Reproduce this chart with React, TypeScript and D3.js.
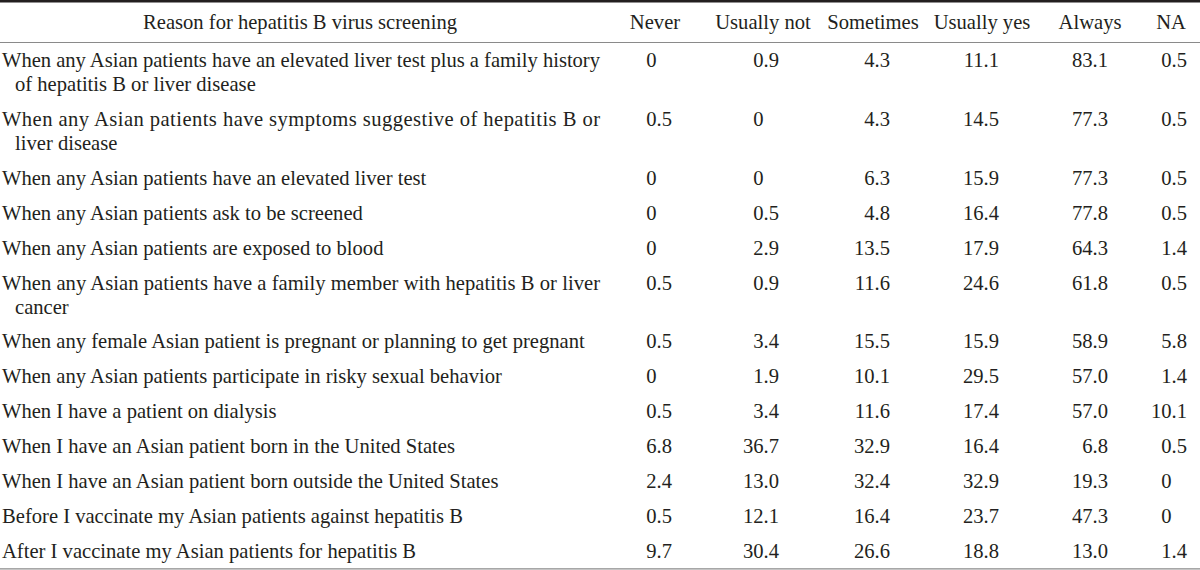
import React from "react";
import * as d3 from "d3";

const headerReason = "Reason for hepatitis B virus screening";
const columns = ["Never", "Usually not", "Sometimes", "Usually yes", "Always", "NA"];

const reasons: string[][] = [
  ["When any Asian patients have an elevated liver test plus a family history", "of hepatitis B or liver disease"],
  ["When any Asian patients have symptoms suggestive of hepatitis B or", "liver disease"],
  ["When any Asian patients have an elevated liver test"],
  ["When any Asian patients ask to be screened"],
  ["When any Asian patients are exposed to blood"],
  ["When any Asian patients have a family member with hepatitis B or liver", "cancer"],
  ["When any female Asian patient is pregnant or planning to get pregnant"],
  ["When any Asian patients participate in risky sexual behavior"],
  ["When I have a patient on dialysis"],
  ["When I have an Asian patient born in the United States"],
  ["When I have an Asian patient born outside the United States"],
  ["Before I vaccinate my Asian patients against hepatitis B"],
  ["After I vaccinate my Asian patients for hepatitis B"],
];

const never = [0, 0.5, 0, 0, 0, 0.5, 0.5, 0, 0.5, 6.8, 2.4, 0.5, 9.7];
const usuallyNot = [0.9, 0, 0, 0.5, 2.9, 0.9, 3.4, 1.9, 3.4, 36.7, 13.0, 12.1, 30.4];
const sometimes = [4.3, 4.3, 6.3, 4.8, 13.5, 11.6, 15.5, 10.1, 11.6, 32.9, 32.4, 16.4, 26.6];
const usuallyYes = [11.1, 14.5, 15.9, 16.4, 17.9, 24.6, 15.9, 29.5, 17.4, 16.4, 32.9, 23.7, 18.8];
const always = [83.1, 77.3, 77.3, 77.8, 64.3, 61.8, 58.9, 57.0, 57.0, 6.8, 19.3, 47.3, 13.0];
const na = [0.5, 0.5, 0.5, 0.5, 1.4, 0.5, 5.8, 1.4, 10.1, 0.5, 0, 0, 1.4];

const seriesValues = [never, usuallyNot, sometimes, usuallyYes, always, na];

const W = 1200;
const H = 570;
const FONT = "'Liberation Serif', 'Times New Roman', serif";
const FS = 20.6;
const INK = "#231f20";

export default function App() {
  // column header centres and decimal-aligned right edges
  const xHeader = d3.scaleOrdinal<string, number>().domain(columns).range([655, 763, 873, 982, 1090, 1171]);
  const xDecimal = d3.scaleOrdinal<string, number>().domain(columns).range([672, 779, 890, 999, 1108, 1187]);

  // row first-line baselines: pitch per row plus extra per wrapped line
  const rowScale = d3.scaleLinear().domain([0, 1]).range([67, 67 + 34.9]);
  const lineGap = 24;
  const extraBefore: number[] = [];
  let acc = 0;
  reasons.forEach((r) => {
    extraBefore.push(acc);
    acc += r.length - 1;
  });
  const rowY = (i: number) => rowScale(i) + extraBefore[i] * lineGap;

  const fmt = (v: number) => (v === 0 ? "0" : d3.format(".1f")(v));

  return (
    <svg
      width={W}
      height={H}
      style={{ position: "absolute", left: 0, top: 0, background: "#fff" }}
      fontFamily={FONT}
      fontSize={FS}
    >
      <rect x={0} y={0} width={W} height={H} fill="#fff" />
      <line x1={0} x2={W} y1={1.2} y2={1.2} stroke={INK} strokeWidth={2.6} />
      <line x1={0} x2={W} y1={42.5} y2={42.5} stroke="#8a8a8a" strokeWidth={1.2} />
      <line x1={0} x2={W} y1={568.8} y2={568.8} stroke="#8a8a8a" strokeWidth={1.2} />

      <text x={300} y={29} textAnchor="middle" fill={INK}>
        {headerReason}
      </text>
      {columns.map((c) => (
        <text key={c} x={xHeader(c)} y={29} textAnchor="middle" fill={INK}>
          {c}
        </text>
      ))}

      {reasons.map((lines, i) => (
        <g key={i}>
          {lines.map((ln, j) => {
            const justify = lines.length > 1 && j === 0;
            return (
              <text
                key={j}
                x={j === 0 ? 2 : 15}
                y={rowY(i) + j * lineGap}
                fill={INK}
                {...(justify ? { textLength: 598, lengthAdjust: "spacing" } : {})}
              >
                {ln}
              </text>
            );
          })}
          {columns.map((c, k) => {
            const v = seriesValues[k][i];
            const s = fmt(v);
            const hasDot = s.includes(".");
            return (
              <text
                key={c}
                x={hasDot ? xDecimal(c) : xDecimal(c) - FS * 0.75}
                y={rowY(i)}
                textAnchor="end"
                fill={INK}
              >
                {s}
              </text>
            );
          })}
        </g>
      ))}
    </svg>
  );
}
